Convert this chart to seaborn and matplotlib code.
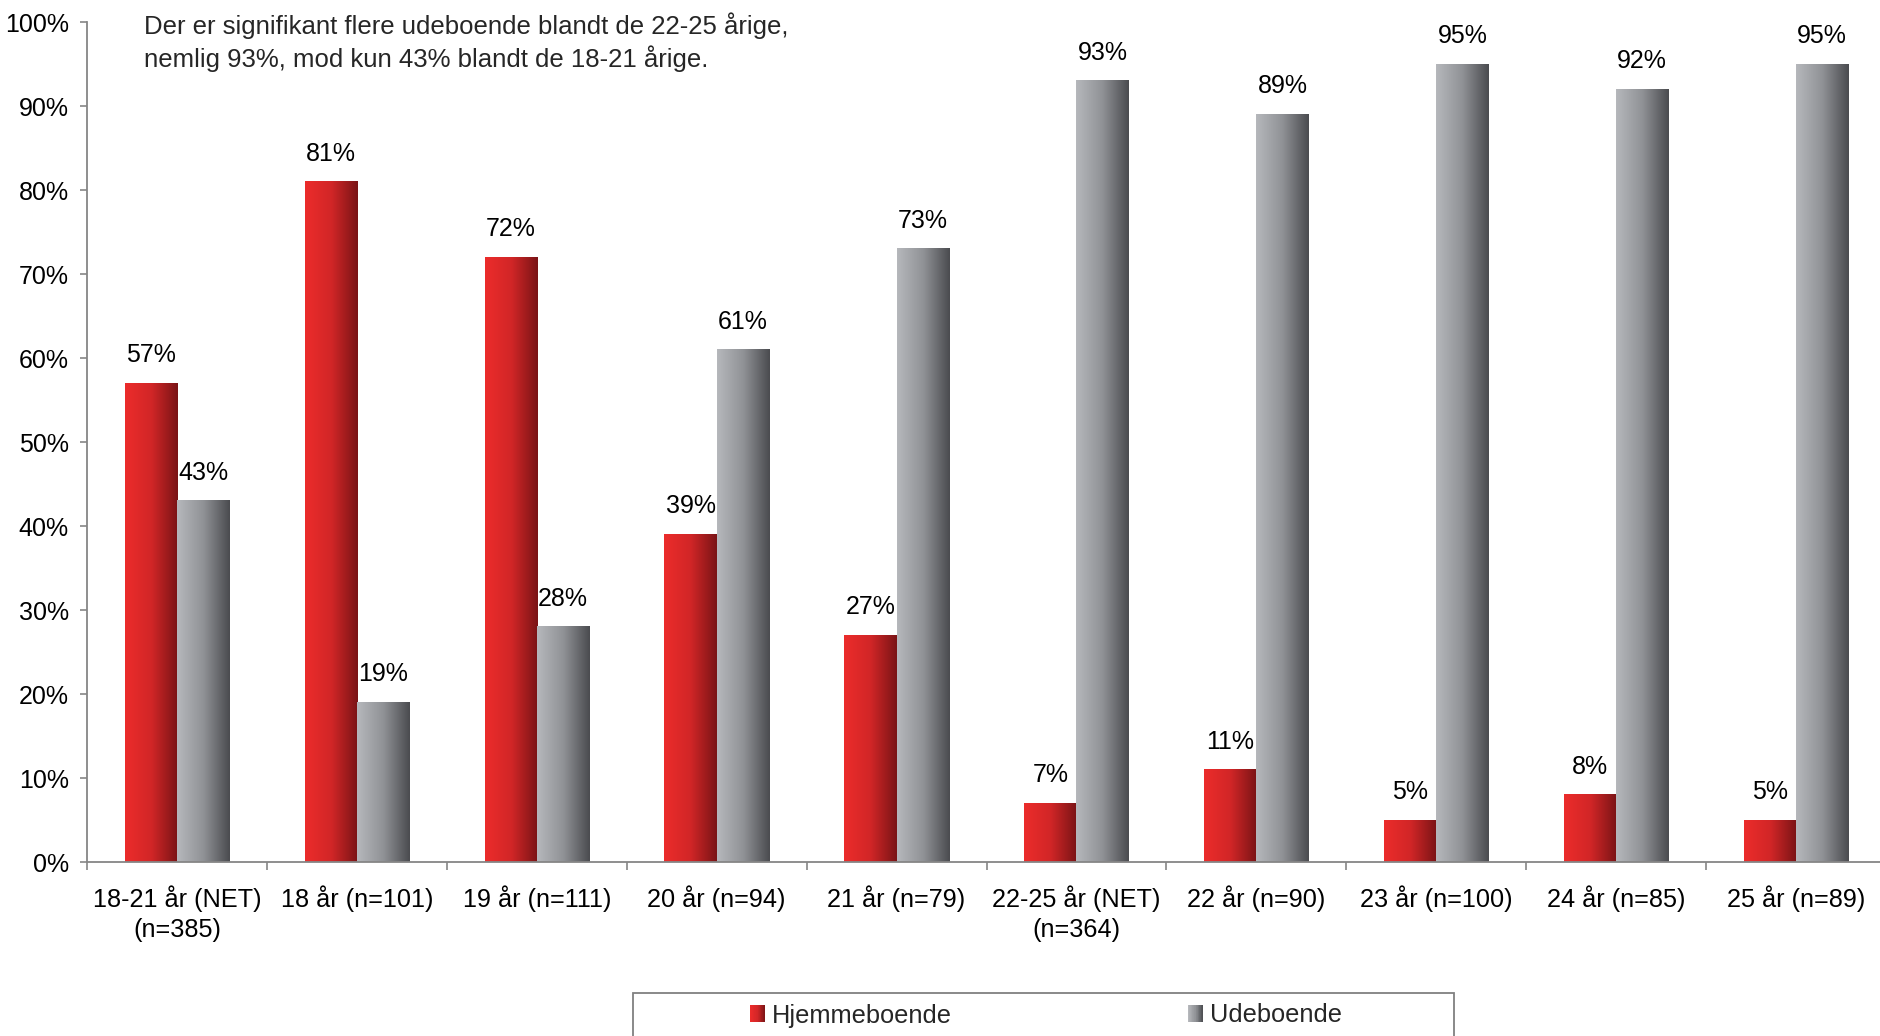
import numpy as np
import pandas as pd
import matplotlib
matplotlib.use("Agg")
import matplotlib.pyplot as plt
import seaborn as sns
from matplotlib.colors import LinearSegmentedColormap
from matplotlib.patches import Rectangle, Patch
from matplotlib.legend_handler import HandlerBase
from matplotlib.ticker import FixedLocator, PercentFormatter

categories = ["18-21 år (NET)\n(n=385)", "18 år (n=101)", "19 år (n=111)", "20 år (n=94)",
              "21 år (n=79)", "22-25 år (NET)\n(n=364)", "22 år (n=90)", "23 år (n=100)",
              "24 år (n=85)", "25 år (n=89)"]
hjemme = [57, 81, 72, 39, 27, 7, 11, 5, 8, 5]
ude = [43, 19, 28, 61, 73, 93, 89, 95, 92, 95]
series = ["Hjemmeboende", "Udeboende"]
note_lines = ["Der er signifikant flere udeboende blandt de 22-25 årige,",
              "nemlig 93%, mod kun 43% blandt de 18-21 årige."]

sns.set_theme(style="white")
plt.rcParams["font.family"] = ["Liberation Sans", "DejaVu Sans"]

df = pd.DataFrame({
    "cat": categories * 2,
    "value": hjemme + ude,
    "series": [series[0]] * len(categories) + [series[1]] * len(categories),
})

red_cmap = LinearSegmentedColormap.from_list("red", ["#ec2c2b", "#d22627", "#7a1416"])
grey_cmap = LinearSegmentedColormap.from_list("grey", ["#b6b8bc", "#909296", "#4a4b4f"])
cmaps = [red_cmap, grey_cmap]

fig = plt.figure(figsize=(18.8, 10.36), dpi=100)
ax = fig.add_axes([87 / 1880, 1 - 862 / 1036, (1886 - 87) / 1880, (862 - 22) / 1036])

sns.barplot(data=df, x="cat", y="value", hue="series", hue_order=series, order=categories,
            palette=["#d22627", "#909296"], width=0.58, ax=ax, legend=False,
            saturation=1, errorbar=None)

grad = np.linspace(0, 1, 256).reshape(1, -1)
for ci, cont in enumerate(ax.containers):
    for bar, val in zip(cont.patches, [hjemme, ude][ci]):
        x, w, h = bar.get_x(), bar.get_width(), bar.get_height()
        bar.set_facecolor("none")
        bar.set_edgecolor("none")
        ax.imshow(grad, extent=[x, x + w, 0, h], aspect="auto", cmap=cmaps[ci],
                  interpolation="bilinear", zorder=2)
        ax.annotate(f"{val}%", (x + w / 2, h), xytext=(0, 11.5), textcoords="offset points",
                    ha="center", va="bottom", fontsize=18, color="black")

ax.set_xlim(-0.5, len(categories) - 0.5)
ax.set_ylim(0, 100)
ax.set_xlabel("")
ax.set_ylabel("")
ax.yaxis.set_major_locator(FixedLocator(np.arange(0, 101, 10)))
ax.yaxis.set_major_formatter(PercentFormatter(decimals=0))
ax.xaxis.set_minor_locator(FixedLocator(np.arange(-0.5, len(categories), 1)))

for s in ["top", "right"]:
    ax.spines[s].set_visible(False)
for s in ["left", "bottom"]:
    ax.spines[s].set_color("#868686")
    ax.spines[s].set_linewidth(1.3)

ax.tick_params(axis="y", which="major", direction="out", length=5, width=1.2, color="#868686",
               left=True, labelsize=18, pad=8, labelcolor="black")
ax.tick_params(axis="x", which="major", length=0, labelsize=18.2, pad=16.5, labelcolor="black")
ax.tick_params(axis="x", which="minor", direction="out", length=6, width=1.2, color="#868686",
               bottom=True)
for lbl in ax.get_xticklabels():
    lbl.set_linespacing(1.32)

fig.text(144 / 1880, 1 - 26 / 1036, note_lines[0], fontsize=18.5, va="center", ha="left")
fig.text(144 / 1880, 1 - 59 / 1036, note_lines[1], fontsize=18.5, va="center", ha="left")


class GradHandler(HandlerBase):
    def __init__(self, cmap):
        super().__init__()
        self.cmap = cmap

    def create_artists(self, legend, orig_handle, xdescent, ydescent, width, height, fontsize, trans):
        n = 24
        arts = []
        for i in range(n):
            r = Rectangle((-xdescent + i * width / n, -ydescent), width / n * 1.05, height,
                          facecolor=self.cmap(i / (n - 1)), edgecolor="none", transform=trans)
            arts.append(r)
        return arts


h1 = Patch(label=series[0])
h2 = Patch(label=series[1])
fig.legend(handles=[h1, h2], labels=series, ncol=2, frameon=False, fontsize=18.3,
           loc="center left", bbox_to_anchor=(750 / 1880, 1 - 1015.5 / 1036),
           borderpad=0, borderaxespad=0, handlelength=0.6, handleheight=0.6,
           handletextpad=0.25, columnspacing=9.3,
           handler_map={h1: GradHandler(red_cmap), h2: GradHandler(grey_cmap)})
fig.patches.append(Rectangle((633 / 1880, -0.05), (1454 - 633) / 1880, 0.05 + 1 - 993 / 1036,
                             transform=fig.transFigure, facecolor="none", edgecolor="#808080",
                             linewidth=1.3))

fig.savefig("out.png", dpi=100)
